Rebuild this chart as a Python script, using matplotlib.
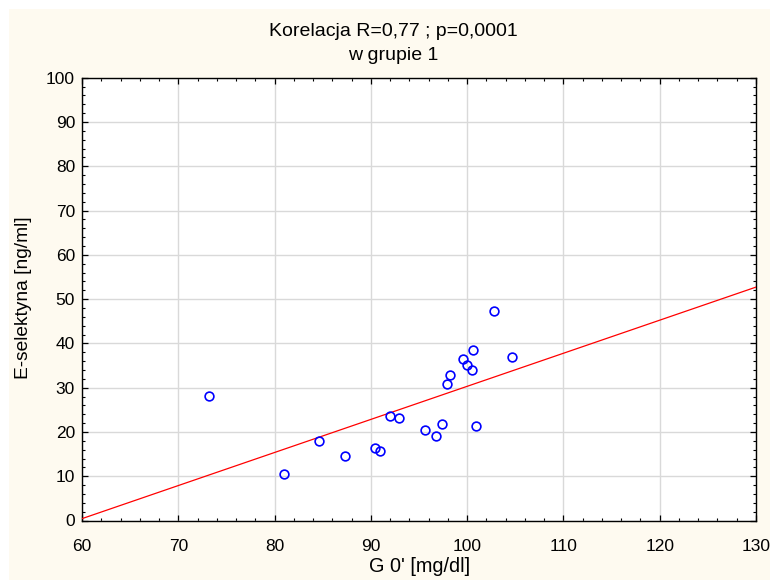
import matplotlib
matplotlib.use("Agg")
import matplotlib.pyplot as plt
from matplotlib.patches import Rectangle
from matplotlib.ticker import MultipleLocator
import numpy as np

plt.rcParams['font.family'] = ['Liberation Sans', 'DejaVu Sans']

# Glucose at 0' [mg/dl] and E-selectin [ng/ml] for group 1
g0 = [73.16, 81.0, 84.64, 87.31, 90.43, 90.98, 92.02, 92.95, 95.62, 96.73,
      97.41, 97.93, 98.24, 99.60, 99.95, 100.47, 100.60, 100.91, 102.81, 104.62]
e_sel = [28.2, 10.6, 17.9, 14.6, 16.4, 15.7, 23.5, 23.2, 20.5, 19.0,
         21.7, 30.9, 32.9, 36.5, 35.1, 34.0, 38.4, 21.4, 47.2, 37.0]

# Linear regression line: E = intercept + slope * G
fit_intercept = -44.4
fit_slope = 0.747

x_ticks = [60, 70, 80, 90, 100, 110, 120, 130]
y_ticks = [0, 10, 20, 30, 40, 50, 60, 70, 80, 90, 100]

title_lines = ["Korelacja R=0,77 ; p=0,0001", "w grupie 1"]
x_label = "G 0' [mg/dl]"
y_label = "E-selektyna [ng/ml]"

W, H = 770, 580
fig = plt.figure(figsize=(W / 100, H / 100), dpi=100)
fig.patch.set_facecolor('white')
fig.patches.append(Rectangle((9 / W, 0), 1 - 9 / W, 1 - 9 / H,
                             transform=fig.transFigure, facecolor='#FEFAF0',
                             edgecolor='none', zorder=-10))

ax = fig.add_axes([82 / W, 1 - 520.5 / H, (756 - 82) / W, (520.5 - 77.7) / H])
ax.set_facecolor('white')
ax.set_xlim(60, 130)
ax.set_ylim(0, 100)
ax.set_xticks(x_ticks)
ax.set_yticks(y_ticks)
ax.xaxis.set_minor_locator(MultipleLocator(2))
ax.yaxis.set_minor_locator(MultipleLocator(2))
ax.tick_params(which='both', direction='in', top=True, right=True,
               colors='black', labelsize=12.5)
ax.tick_params(which='major', length=4, width=0.9)
ax.tick_params(axis='y', which='major', pad=5)
ax.tick_params(axis='x', which='major', pad=13)
ax.tick_params(which='minor', length=2.5, width=0.8)
ax.grid(True, which='major', color='#D9D9D9', linewidth=1.0)
ax.set_axisbelow(True)
for s in ax.spines.values():
    s.set_linewidth(1.0)
    s.set_color('black')

xs = np.array(x_ticks[:1] + x_ticks[-1:], dtype=float)
ax.plot(xs, fit_intercept + fit_slope * xs, color='#FF0000', linewidth=0.9,
        zorder=3, clip_on=True)
ax.plot(g0, e_sel, linestyle='none', marker='o', markersize=6.3,
        markerfacecolor='none', markeredgecolor='#0000FF',
        markeredgewidth=1.2, zorder=4)

fig.text(393 / W, 1 - 31 / H, title_lines[0], ha='center', va='center', fontsize=14)
fig.text(393 / W, 1 - 56 / H, title_lines[1], ha='center', va='center', fontsize=14)
fig.text(420 / W, 1 - 567 / H, x_label, ha='center', va='center', fontsize=14.3)
fig.text(24 / W, 1 - 298 / H, y_label, ha='center', va='center',
         rotation=90, fontsize=13.8)

fig.savefig('out.png', dpi=100, facecolor=fig.get_facecolor())
